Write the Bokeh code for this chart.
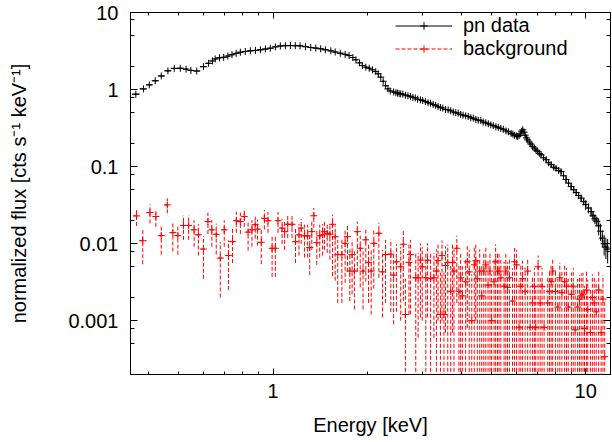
import numpy as np
from bokeh.plotting import figure
from bokeh.models import (ColumnDataSource, FixedTicker, LogAxis, CustomJSTickFormatter,
                          Legend, LegendItem, Range1d)
from bokeh.embed import file_html
from bokeh.resources import INLINE

FONT = "Liberation Sans"

# ---------------- pn data (source) ----------------
src_energy_soft = [
    0.364, 0.385, 0.402, 0.420, 0.439, 0.461, 0.483, 0.505, 0.527, 0.546,
    0.570, 0.599, 0.622, 0.640, 0.653, 0.674, 0.695, 0.717, 0.739, 0.762,
    0.786, 0.815, 0.846, 0.878, 0.911, 0.945, 0.980, 1.017, 1.055, 1.095,
    1.136, 1.178, 1.220, 1.270, 1.320, 1.370, 1.420, 1.470, 1.530, 1.580,
    1.640, 1.700, 1.750, 1.800, 1.840, 1.890, 1.930, 1.980, 2.030, 2.080,
    2.130, 2.170, 2.210, 2.250, 2.290, 2.330, 2.370]
src_flux_soft = [
    0.87, 1.02, 1.15, 1.30, 1.50, 1.75, 1.88, 1.89, 1.84, 1.77,
    1.74, 1.98, 2.19, 2.35, 2.50, 2.58, 2.62, 2.72, 2.83, 2.95,
    3.05, 3.12, 3.18, 3.22, 3.28, 3.36, 3.44, 3.58, 3.68, 3.71,
    3.72, 3.71, 3.69, 3.60, 3.51, 3.45, 3.38, 3.28, 3.18, 3.07,
    2.96, 2.86, 2.76, 2.60, 2.43, 2.22, 2.05, 1.95, 1.89, 1.80,
    1.71, 1.60, 1.45, 1.28, 1.12, 1.02, 0.96]
src_relerr_soft = [
    0.03, 0.03, 0.03, 0.03, 0.03, 0.025, 0.025, 0.025, 0.025, 0.025,
    0.025, 0.025, 0.02, 0.02, 0.02, 0.02, 0.02, 0.02, 0.02, 0.02,
    0.02, 0.02, 0.02, 0.02, 0.02, 0.02, 0.02, 0.02, 0.02, 0.02,
    0.02, 0.02, 0.02, 0.02, 0.02, 0.02, 0.02, 0.02, 0.02, 0.02,
    0.02, 0.02, 0.02, 0.02, 0.02, 0.02, 0.02, 0.02, 0.02, 0.02,
    0.025, 0.025, 0.025, 0.025, 0.025, 0.025, 0.025]

src_energy_hard = [
    2.43, 2.47, 2.50, 2.53, 2.56, 2.60, 2.65, 2.70, 2.75, 2.80,
    2.85, 2.90, 2.96, 3.01, 3.07, 3.13, 3.19, 3.25, 3.31, 3.37,
    3.43, 3.49, 3.56, 3.63, 3.70, 3.77, 3.84, 3.91, 3.98, 4.05,
    4.13, 4.21, 4.29, 4.37, 4.45, 4.53, 4.62, 4.70, 4.79, 4.88,
    4.97, 5.06, 5.16, 5.25, 5.35, 5.45, 5.56, 5.66, 5.77, 5.85,
    5.92, 6.00, 6.06, 6.12, 6.18, 6.24, 6.29, 6.35, 6.40, 6.46,
    6.52, 6.60, 6.68, 6.76, 6.85, 6.93, 7.02, 7.11, 7.20, 7.33,
    7.47, 7.61, 7.75, 7.90, 8.04, 8.19, 8.34, 8.49, 8.65, 8.81,
    8.98, 9.15, 9.32, 9.49, 9.67, 9.85, 10.0, 10.2, 10.4, 10.55,
    10.7, 10.85, 11.0, 11.15, 11.3, 11.45, 11.6, 11.75]
src_flux_hard = [
    0.93, 0.91, 0.90, 0.885, 0.88, 0.87, 0.845, 0.83, 0.815, 0.79,
    0.78, 0.75, 0.735, 0.72, 0.70, 0.675, 0.665, 0.64, 0.625, 0.60,
    0.585, 0.575, 0.55, 0.545, 0.53, 0.51, 0.50, 0.495, 0.475, 0.465,
    0.455, 0.448, 0.43, 0.425, 0.41, 0.40, 0.395, 0.378, 0.37, 0.36,
    0.348, 0.34, 0.328, 0.324, 0.312, 0.305, 0.29, 0.283, 0.27, 0.264,
    0.255, 0.25, 0.246, 0.252, 0.266, 0.288, 0.300, 0.280, 0.255, 0.236,
    0.222, 0.208, 0.196, 0.183, 0.174, 0.164, 0.158, 0.148, 0.142, 0.130,
    0.123, 0.112, 0.106, 0.098, 0.095, 0.089, 0.086, 0.076, 0.068, 0.061,
    0.055, 0.050, 0.046, 0.042, 0.039, 0.035, 0.032, 0.029, 0.026, 0.023,
    0.021, 0.0195, 0.017, 0.0145, 0.0118, 0.0100, 0.0090, 0.0085]
src_relerr_hard = [
    0.03, 0.03, 0.03, 0.03, 0.03, 0.03, 0.03, 0.03, 0.03, 0.03,
    0.03, 0.03, 0.03, 0.03, 0.03, 0.03, 0.03, 0.03, 0.03, 0.03,
    0.03, 0.03, 0.03, 0.03, 0.03, 0.03, 0.03, 0.03, 0.03, 0.04,
    0.04, 0.04, 0.04, 0.04, 0.04, 0.04, 0.04, 0.04, 0.04, 0.04,
    0.04, 0.04, 0.04, 0.04, 0.04, 0.04, 0.04, 0.04, 0.04, 0.05,
    0.05, 0.05, 0.05, 0.05, 0.05, 0.05, 0.05, 0.05, 0.05, 0.05,
    0.05, 0.05, 0.05, 0.05, 0.05, 0.05, 0.05, 0.05, 0.05, 0.07,
    0.07, 0.07, 0.07, 0.07, 0.07, 0.08, 0.08, 0.10, 0.10, 0.10,
    0.10, 0.10, 0.10, 0.10, 0.10, 0.10, 0.15, 0.15, 0.15, 0.15,
    0.15, 0.15, 0.25, 0.25, 0.25, 0.30, 0.30, 0.35]

# ---------------- background ----------------
bkg_energy_soft = [
    0.366, 0.383, 0.404, 0.422, 0.439, 0.459, 0.478, 0.496, 0.517, 0.537,
    0.559, 0.577, 0.599, 0.619, 0.637, 0.658, 0.678, 0.698, 0.720, 0.742,
    0.763, 0.786, 0.809, 0.832, 0.856, 0.877, 0.892, 0.917, 0.938, 0.963,
    0.993, 1.017, 1.037, 1.069, 1.089, 1.114, 1.150, 1.180, 1.210, 1.230,
    1.260, 1.290, 1.310, 1.330, 1.350, 1.380, 1.410, 1.440, 1.460, 1.490,
    1.520]
bkg_flux_soft = [
    .0229, .0109, .0253, .0225, .0127, .0318, .0139, .0127, .0172, .0172,
    .0151, .0130, .0085, .0193, .0151, .0132, .0065, .0151, .0070, .0106,
    .0198, .0193, .0225, .0141, .0151, .0176, .0154, .0104, .0213, .0198,
    .0087, .0087, .0198, .0159, .0143, .0178, .0178, .0106, .0130, .0159,
    .0126, .0126, .0089, .0143, .0230, .0103, .0126, .0130, .0143, .0136,
    .0132]
bkg_err_up_soft = [
    .006, .005, .007, .006, .005, .007, .005, .005, .006, .006,
    .005, .005, .004, .006, .005, .005, .004, .005, .004, .005,
    .006, .006, .006, .005, .005, .006, .005, .005, .006, .006,
    .004, .004, .006, .005, .005, .006, .006, .005, .005, .005,
    .005, .005, .004, .005, .006, .005, .005, .005, .005, .005,
    .005]
bkg_err_dn_soft = [
    .006, .0055, .007, .006, .0055, .007, .006, .0055, .006, .006,
    .006, .006, .005, .006, .006, .006, .0045, .006, .0045, .005,
    .006, .006, .006, .006, .006, .006, .006, .005, .006, .006,
    .005, .005, .006, .006, .006, .006, .006, .005, .006, .006,
    .006, .006, .005, .006, .007, .005, .006, .006, .006, .006,
    .007]

bkg_energy_hard = [
    1.55, 1.58, 1.61, 1.66, 1.70, 1.73, 1.76, 1.79, 1.82, 1.86,
    1.90, 1.94, 1.98, 2.02, 2.06, 2.10, 2.18, 2.24, 2.29, 2.38,
    2.43, 2.48, 2.56, 2.61, 2.65, 2.72, 2.75, 2.86, 2.91, 2.96,
    3.00, 3.08, 3.12, 3.19, 3.27, 3.33, 3.37, 3.43, 3.47, 3.52,
    3.56, 3.62, 3.70, 3.75, 3.79, 3.87, 3.93, 3.98, 4.03, 4.13,
    4.18, 4.24, 4.32, 4.40, 4.45, 4.50, 4.58, 4.65, 4.72, 4.79,
    4.87, 4.94, 5.00, 5.09, 5.15, 5.22, 5.28, 5.35, 5.48, 5.55,
    5.62, 5.70, 5.83, 5.92, 6.01, 6.12, 6.20, 6.28, 6.40, 6.52,
    6.64, 6.76, 6.85, 6.92, 7.04, 7.15, 7.25, 7.36, 7.56, 7.66,
    7.75, 7.84, 8.00, 8.14, 8.26, 8.39, 8.56, 8.68, 8.79, 9.00,
    9.12, 9.25, 9.42, 9.55, 9.67, 9.80, 9.91, 10.05, 10.15, 10.35,
    10.5, 10.65, 10.8, 11.0, 11.2, 11.35, 11.5]
bkg_flux_hard = [
    .0178, .0123, .0072, .0072, .0101, .0123, .0044, .0072, .0044, .0143,
    .0087, .0044, .0112, .0057, .0044, .0101, .0136, .0043, .0072, .0073,
    .0039, .0058, .0050, .0098, .0012, .0057, .0072, .0036, .0036, .0061,
    .0050, .0036, .0061, .0035, .0036, .0044, .0060, .0012, .0070, .0012,
    .0052, .0057, .0024, .0057, .0044, .0087, .0024, .0036, .0021, .0032,
    .0058, .0043, .0010, .0053, .0060, .0035, .0044, .0021, .0044, .0053,
    .0029, .0044, .0010, .0032, .0058, .0044, .0044, .0036, .0028, .0044,
    .0027, .0036, .0018, .0058, .0053, .00082, .0028, .0035, .0024, .0044,
    .00082, .0017, .0028, .00082, .0050, .0017, .0028, .00082, .0017, .0024,
    .0032, .0044, .0024, .0015, .0036, .0023, .0032, .0028, .0015, .0022,
    .0028, .00076, .0015, .0019, .0021, .0022, .00079, .0025, .0014, .00070,
    .0020, .0017, .0013, .0025, .00070, .0019, .00034]
bkg_err_up_hard = [
    .006, .005, .004, .004, .005, .005, .004, .004, .004, .005,
    .004, .004, .005, .004, .004, .005, .005, .004, .004, .004,
    .004, .004, .004, .005, .0023, .004, .004, .004, .004, .004,
    .004, .004, .004, .004, .004, .004, .004, .003, .004, .003,
    .004, .004, .003, .004, .004, .004, .003, .004, .003, .003,
    .004, .004, .003, .004, .004, .003, .004, .003, .003, .004,
    .003, .003, .003, .003, .004, .003, .003, .003, .003, .003,
    .003, .003, .003, .003, .003, .0025, .0025, .0025, .0025, .002,
    .002, .002, .002, .002, .002, .002, .002, .002, .002, .002,
    .002, .002, .002, .002, .002, .002, .002, .002, .002, .002,
    .002, .002, .002, .002, .002, .002, .002, .002, .002, .0018,
    .002, .002, .002, .002, .0018, .002, .0015]
bkg_err_dn_hard = [
    .014, .009, .0055, .0055, .007, .008, .0026, .005, .003, .010,
    .006, .003, .008, .004, .0032, .0075, .010, .0032, .0055, .006,
    .0030, .0045, .004, .008, .0012, .0045, .006, .0036, .003, .005,
    .004, .0036, .005, .0035, .003, .0044, .005, .0012, .006, .0012,
    .0045, .0057, .0024, .005, .0044, .007, .0024, .0036, .0021, .0032,
    .005, .0043, .0010, .0053, .005, .0035, .0044, .0021, .0044, .0053,
    .0029, .0044, .0010, .0032, .0058, .0044, .0044, .0036, .0028, .0044,
    .0027, .0036, .0018, .0058, .0053, .00082, .0028, .0035, .0024, .0044,
    .00082, .0017, .0028, .00082, .0050, .0017, .0028, .00082, .0017, .0024,
    .0032, .0044, .0024, .0015, .0036, .0023, .0032, .0028, .0015, .0022,
    .0028, .00076, .0015, .0019, .0021, .0022, .00079, .0025, .0014, .00070,
    .0020, .0017, .0013, .0025, .00070, .0019, .00034]

# ---------------- ticks ----------------
x_major = [1, 10]
x_minor = [0.4, 0.5, 0.6, 0.7, 0.8, 0.9, 2, 3, 4, 5, 6, 7, 8, 9]
y_major = [0.001, 0.01, 0.1, 1, 10]
y_minor = [0.0005, 0.0008, 0.002, 0.005, 0.008, 0.02, 0.05, 0.08,
           0.2, 0.5, 0.8, 2, 5, 8]


def make_source(energy, flux, err_up, err_dn):
    e = np.asarray(energy, float)
    f = np.asarray(flux, float)
    mid = np.sqrt(e[:-1] * e[1:])
    x0 = np.concatenate([[e[0] * e[0] / mid[0]], mid])
    x1 = np.concatenate([mid, [e[-1] * e[-1] / mid[-1]]])
    y0 = f - np.asarray(err_dn, float)
    y0 = np.where(y0 > 0, y0, 1e-6)
    y1 = f + np.asarray(err_up, float)
    return ColumnDataSource(dict(e=e, f=f, x0=x0, x1=x1, y0=y0, y1=y1))


src_e = src_energy_soft + src_energy_hard
src_f = src_flux_soft + src_flux_hard
src_rel = src_relerr_soft + src_relerr_hard
src_err = [a * b for a, b in zip(src_f, src_rel)]
src = make_source(src_e, src_f, src_err, src_err)

bkg = make_source(bkg_energy_soft + bkg_energy_hard,
                  bkg_flux_soft + bkg_flux_hard,
                  bkg_err_up_soft + bkg_err_up_hard,
                  bkg_err_dn_soft + bkg_err_dn_hard)

p = figure(width=612, height=442, x_axis_type="log", y_axis_type="log",
           x_range=Range1d(0.35, 12), y_range=Range1d(2e-4, 10),
           output_backend="svg", toolbar_location=None,
           min_border_left=130, min_border_right=2,
           min_border_top=12, min_border_bottom=68)
p.xgrid.visible = False
p.ygrid.visible = False
p.outline_line_color = "black"
p.outline_line_width = 1
p.outline_line_alpha = 1.0

# pn data
src_h = p.segment(x0="x0", y0="f", x1="x1", y1="f", source=src,
                  line_color="black", line_width=1)
src_v = p.segment(x0="e", y0="y0", x1="e", y1="y1", source=src,
                  line_color="black", line_width=1)
src_c = p.scatter(x="e", y="f", source=src, marker="cross", size=7,
                  line_color="black", line_width=1)

# background
bkg_h = p.segment(x0="x0", y0="f", x1="x1", y1="f", source=bkg,
                  line_color="#ff0000", line_width=1, line_dash="4 2")
bkg_v = p.segment(x0="e", y0="y0", x1="e", y1="y1", source=bkg,
                  line_color="#ff0000", line_width=1, line_dash="4 2")
bkg_c = p.scatter(x="e", y="f", source=bkg, marker="cross", size=7,
                  line_color="#ff0000", line_width=1)


def style(ax, maj, mino):
    ax.axis_line_color = "black"
    ax.axis_line_width = 1
    ax.major_tick_line_color = "black"
    ax.minor_tick_line_color = "black"
    ax.major_tick_in = maj
    ax.major_tick_out = 0
    ax.minor_tick_in = mino
    ax.minor_tick_out = 0
    ax.major_label_text_font = FONT
    ax.major_label_text_font_size = "20px"
    ax.major_label_text_color = "black"
    ax.axis_label_text_font = FONT
    ax.axis_label_text_font_size = "20px"
    ax.axis_label_text_font_style = "normal"
    ax.axis_label_text_color = "black"


xa = p.xaxis[0]
xa.ticker = FixedTicker(ticks=x_major, minor_ticks=x_minor)
xa.formatter = CustomJSTickFormatter(code="return tick.toString();")
style(xa, 6, 3)
xa.axis_label = "Energy [keV]"
xa.major_label_standoff = 9
xa.axis_label_standoff = 13

ya = p.yaxis[0]
ya.ticker = FixedTicker(ticks=y_major, minor_ticks=y_minor)
ya.formatter = CustomJSTickFormatter(code="return tick.toString();")
style(ya, 7, 4)
ya.axis_label = "normalized flux [cts s\u207b\u00b9 keV\u207b\u00b9]"
ya.major_label_standoff = 12
ya.axis_label_standoff = 35

top = LogAxis(ticker=FixedTicker(ticks=x_major, minor_ticks=x_minor),
              formatter=CustomJSTickFormatter(code="return '';"))
style(top, 6, 3)
top.major_label_text_font_size = "0px"
top.major_label_standoff = 0
p.add_layout(top, "above")

right = LogAxis(ticker=FixedTicker(ticks=y_major, minor_ticks=y_minor),
                formatter=CustomJSTickFormatter(code="return '';"))
style(right, 7, 4)
right.major_label_text_font_size = "0px"
right.major_label_standoff = 0
p.add_layout(right, "right")

legend = Legend(items=[LegendItem(label="pn data", renderers=[src_h, src_c]),
                       LegendItem(label="background", renderers=[bkg_h, bkg_c])],
                location=(265, 314))
legend.padding = 0
legend.spacing = 0
legend.glyph_width = 57
legend.glyph_height = 19
legend.label_height = 19
legend.label_standoff = 11
legend.label_text_font = FONT
legend.label_text_font_size = "20px"
legend.label_text_color = "black"
legend.background_fill_alpha = 0
legend.border_line_alpha = 0
p.add_layout(legend)

open("out.html", "w").write(file_html(p, INLINE))
